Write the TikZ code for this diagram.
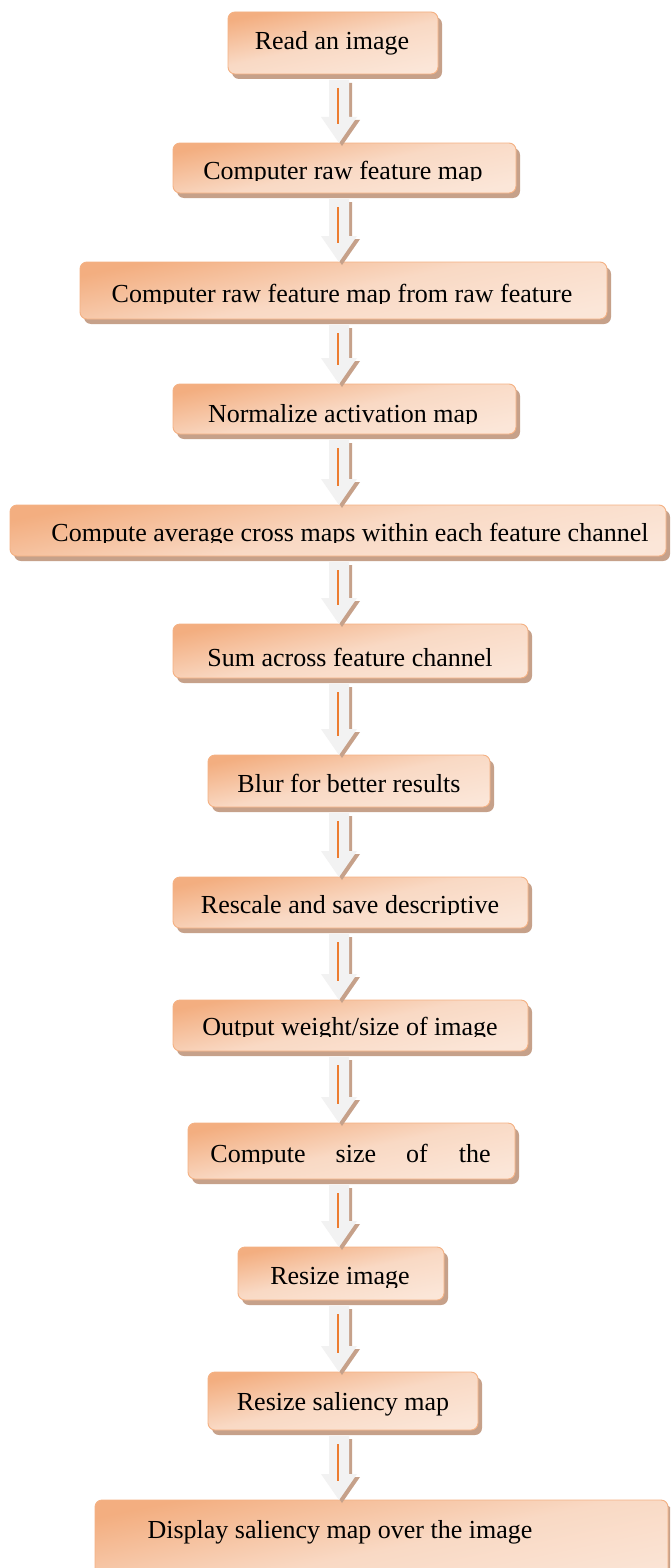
\documentclass[tikz,border=0pt]{standalone}
\usepackage{fontspec}
\setmainfont{Liberation Serif}
\usetikzlibrary{shadows,fit,calc}
\definecolor{boxedge}{HTML}{F4B183}
\definecolor{boxtop}{HTML}{F3AE80}
\definecolor{boxmid}{HTML}{F9D9C4}
\definecolor{boxbot}{HTML}{FBE6D8}
\definecolor{shcol}{HTML}{C6A18A}
\definecolor{arrfill}{HTML}{F2F2F2}
\definecolor{arrline}{HTML}{ED7D31}
\tikzset{
  box/.style={draw=boxedge, line width=0.9pt, rounded corners=7pt, inner sep=0pt, outer sep=0pt,
    top color=boxtop, bottom color=boxbot, middle color=boxmid, shading angle=12,
    drop shadow={shadow xshift=4pt, shadow yshift=-5pt, fill=shcol, opacity=1}},
  txt/.style={inner sep=0pt, anchor=base, font=\fontsize{26}{30}\selectfont},
  arrbody/.style={fill=arrfill,
    drop shadow={shadow xshift=3pt, shadow yshift=-3pt, fill=shcol, opacity=1}},
  arrstroke/.style={draw=arrline, line width=1.3pt}
}
\newcommand{\flowarrow}[2]{%
  \path[arrbody] let \p1=(#1.south), \p2=(#2.north) in
    (329pt,\y1-6pt) -- (349pt,\y1-6pt) -- (349pt,\y2+26pt) -- (357pt,\y2+26pt)
    -- (339pt,\y2) -- (321pt,\y2+26pt) -- (329pt,\y2+26pt) -- cycle;
  \path[arrstroke] let \p1=(#1.south), \p2=(#2.north) in
    (338pt,\y1-14pt) -- (338pt,\y2+19pt);
}
\begin{document}
\begin{tikzpicture}[x=1pt,y=-1pt]
\clip (0,0) rectangle (670,1568);
\fill[white] (0,0) rectangle (670,1568);
% boxes
\node[box, fit={(228,12) (438,74)}] (b1) {};
\node[box, fit={(173,143) (516,193)}] (b2) {};
\node[box, fit={(80,262) (607,319)}] (b3) {};
\node[box, fit={(173,384) (516,434)}] (b4) {};
\node[box, fit={(10,505) (666,556)}] (b5) {};
\node[box, fit={(173,624) (528,678)}] (b6) {};
\node[box, fit={(208,755) (490,807)}] (b7) {};
\node[box, fit={(173,877) (528,928)}] (b8) {};
\node[box, fit={(173,1000) (528,1051)}] (b9) {};
\node[box, fit={(188,1123) (515,1179)}] (b10) {};
\node[box, fit={(238,1247) (444,1300)}] (b11) {};
\node[box, fit={(208,1372) (478,1430)}] (b12) {};
\node[box, fit={(95,1500) (668,1600)}] (b13) {};
% texts
\node[txt] (t1) at (332,50) {Read an image};
\begin{scope}\clip (0,0) rectangle (670,180);
\node[txt] (t2) at (343,179) {Computer raw feature map};\end{scope}
\begin{scope}\clip (0,0) rectangle (670,303);
\node[txt] (t3) at (342,302) {Computer raw feature map from raw feature};\end{scope}
\begin{scope}\clip (0,0) rectangle (670,423);
\node[txt] (t4) at (343,422) {Normalize activation map};\end{scope}
\begin{scope}\clip (0,0) rectangle (670,542);
\node[txt] (t5) at (350,541) {Compute average cross maps within each feature channel};\end{scope}
\node[txt] (t6) at (350,666) {Sum across feature channel};
\node[txt] (t7) at (349,792) {Blur for better results};
\begin{scope}\clip (0,0) rectangle (670,914);
\node[txt] (t8) at (350,913) {Rescale and save descriptive};\end{scope}
\begin{scope}\clip (0,0) rectangle (670,1036);
\node[txt] (t9) at (350,1035) {Output weight/size of image};\end{scope}
\begin{scope}\clip (0,0) rectangle (670,1163);
\node[txt] (t10) at (350.5,1162) {Compute\hspace{30pt}size\hspace{30pt}of\hspace{31pt}the};\end{scope}
\begin{scope}\clip (0,0) rectangle (670,1287);
\node[txt] (t11) at (340,1284) {Resize image};\end{scope}
\node[txt] (t12) at (343,1410) {Resize saliency map};
\node[txt] (t13) at (340,1538) {Display saliency map over the image};
% arrows
\flowarrow{b1}{b2}
\flowarrow{b2}{b3}
\flowarrow{b3}{b4}
\flowarrow{b4}{b5}
\flowarrow{b5}{b6}
\flowarrow{b6}{b7}
\flowarrow{b7}{b8}
\flowarrow{b8}{b9}
\flowarrow{b9}{b10}
\flowarrow{b10}{b11}
\flowarrow{b11}{b12}
\flowarrow{b12}{b13}
\end{tikzpicture}
\end{document}
